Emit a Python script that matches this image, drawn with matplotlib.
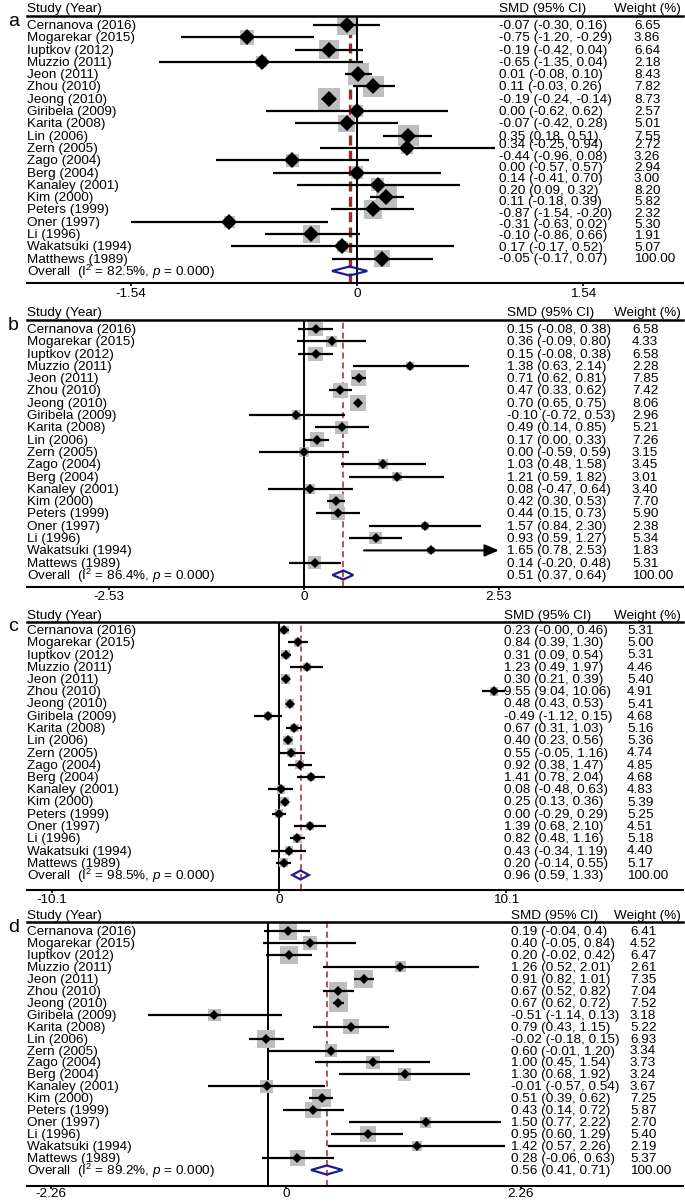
import matplotlib
matplotlib.use("Agg")
import matplotlib.pyplot as plt
import matplotlib.transforms as mtransforms
from matplotlib.patches import Polygon
import numpy as np

plt.rcParams["font.family"] = ["Liberation Sans", "DejaVu Sans"]
plt.rcParams["mathtext.fontset"] = "custom"
plt.rcParams["mathtext.rm"] = "Liberation Sans"
plt.rcParams["mathtext.it"] = "Liberation Sans:italic"

W, H = 685, 1201
FS = 9.7
L, R = 27, 683          # left / right end of the panel rules (px)

# ---- data ---------------------------------------------------------------
studies = ["Cernanova (2016)", "Mogarekar (2015)", "Iuptkov (2012)", "Muzzio (2011)",
           "Jeon (2011)", "Zhou (2010)", "Jeong (2010)", "Giribela (2009)",
           "Karita (2008)", "Lin (2006)", "Zern (2005)", "Zago (2004)",
           "Berg (2004)", "Kanaley (2001)", "Kim (2000)", "Peters (1999)",
           "Oner (1997)", "Li (1996)", "Wakatsuki (1994)", "Mattews (1989)"]
studies_a = studies[:-1] + ["Matthews (1989)"]

smd_a = [-0.07, -0.75, -0.19, -0.65, 0.01, 0.11, -0.19, 0.00, -0.07, 0.35,
         0.34, -0.44, 0.00, 0.14, 0.20, 0.11, -0.87, -0.31, -0.10, 0.17]
lo_a = [-0.30, -1.20, -0.42, -1.35, -0.08, -0.03, -0.24, -0.62, -0.42, 0.18,
        -0.25, -0.96, -0.57, -0.41, 0.09, -0.18, -1.54, -0.63, -0.86, -0.17]
hi_a = [0.16, -0.29, 0.04, 0.04, 0.10, 0.26, -0.14, 0.62, 0.28, 0.51,
        0.94, 0.08, 0.57, 0.70, 0.32, 0.39, -0.20, 0.02, 0.66, 0.52]
w_a = [6.65, 3.86, 6.64, 2.18, 8.43, 7.82, 8.73, 2.57, 5.01, 7.55,
       2.72, 3.26, 2.94, 3.00, 8.20, 5.82, 2.32, 5.30, 1.91, 5.07]
overall_a = (-0.05, -0.17, 0.07)
i2_a = 82.5

smd_b = [0.15, 0.36, 0.15, 1.38, 0.71, 0.47, 0.70, -0.10, 0.49, 0.17,
         0.00, 1.03, 1.21, 0.08, 0.42, 0.44, 1.57, 0.93, 1.65, 0.14]
lo_b = [-0.08, -0.09, -0.08, 0.63, 0.62, 0.33, 0.65, -0.72, 0.14, 0.00,
        -0.59, 0.48, 0.59, -0.47, 0.30, 0.15, 0.84, 0.59, 0.78, -0.20]
hi_b = [0.38, 0.80, 0.38, 2.14, 0.81, 0.62, 0.75, 0.53, 0.85, 0.33,
        0.59, 1.58, 1.82, 0.64, 0.53, 0.73, 2.30, 1.27, 2.53, 0.48]
w_b = [6.58, 4.33, 6.58, 2.28, 7.85, 7.42, 8.06, 2.96, 5.21, 7.26,
       3.15, 3.45, 3.01, 3.40, 7.70, 5.90, 2.38, 5.34, 1.83, 5.31]
overall_b = (0.51, 0.37, 0.64)
i2_b = 86.4

smd_c = [0.23, 0.84, 0.31, 1.23, 0.30, 9.55, 0.48, -0.49, 0.67, 0.40,
         0.55, 0.92, 1.41, 0.08, 0.25, 0.00, 1.39, 0.82, 0.43, 0.20]
lo_c = [-0.00, 0.39, 0.09, 0.49, 0.21, 9.04, 0.43, -1.12, 0.31, 0.23,
        -0.05, 0.38, 0.78, -0.48, 0.13, -0.29, 0.68, 0.48, -0.34, -0.14]
hi_c = [0.46, 1.30, 0.54, 1.97, 0.39, 10.06, 0.53, 0.15, 1.03, 0.56,
        1.16, 1.47, 2.04, 0.63, 0.36, 0.29, 2.10, 1.16, 1.19, 0.55]
w_c = [5.31, 5.00, 5.31, 4.46, 5.40, 4.91, 5.41, 4.68, 5.16, 5.36,
       4.74, 4.85, 4.68, 4.83, 5.39, 5.25, 4.51, 5.18, 4.40, 5.17]
overall_c = (0.96, 0.59, 1.33)
i2_c = 98.5

smd_d = [0.19, 0.40, 0.20, 1.26, 0.91, 0.67, 0.67, -0.51, 0.79, -0.02,
         0.60, 1.00, 1.30, -0.01, 0.51, 0.43, 1.50, 0.95, 1.42, 0.28]
lo_d = [-0.04, -0.05, -0.02, 0.52, 0.82, 0.52, 0.62, -1.14, 0.43, -0.18,
        -0.01, 0.45, 0.68, -0.57, 0.39, 0.14, 0.77, 0.60, 0.57, -0.06]
hi_d = [0.40, 0.84, 0.42, 2.01, 1.01, 0.82, 0.72, 0.13, 1.15, 0.15,
        1.20, 1.54, 1.92, 0.54, 0.62, 0.72, 2.22, 1.29, 2.26, 0.63]
w_d = [6.41, 4.52, 6.47, 2.61, 7.35, 7.04, 7.52, 3.18, 5.22, 6.93,
       3.34, 3.73, 3.24, 3.67, 7.25, 5.87, 2.70, 5.40, 2.19, 5.37]
overall_d = (0.56, 0.41, 0.71)
i2_d = 89.2
ci_text_fix_d = {0: "0.19 (-0.04, 0.4)"}

ticks_a = [-1.54, 0, 1.54]
ticks_b = [-2.53, 0, 2.53]
ticks_c = [-10.1, 0, 10.1]
ticks_d = [-2.26, 0, 2.26]

# ---- layout (pixels) ----------------------------------------------------
panels = [
    dict(letter="a", names=studies_a, smd=smd_a, lo=lo_a, hi=hi_a, w=w_a,
         ov=overall_a, i2=i2_a, ticks=ticks_a, fix={},
         y=(16, 25, 271, 283), x0=357, scale=146.8, box=7.5, ms=8.5,
         dash_lw=2.4, dash=(3.0, 1.6), smd_x=499, w_x=634,
         tick_shift=0.0, tick_fac=1.0, arrow=None, drift=True, pad=1.5),
    dict(letter="b", names=studies, smd=smd_b, lo=lo_b, hi=hi_b, w=w_b,
         ov=overall_b, i2=i2_b, ticks=ticks_b, fix={},
         y=(320, 329, 575, 587), x0=304, scale=77.0, box=5.5, ms=5.5,
         dash_lw=1.1, dash=(4.0, 2.5), smd_x=507, w_x=632,
         tick_shift=0.0, tick_fac=1.0, arrow=2.53, drift=False, pad=1.0),
    dict(letter="c", names=studies, smd=smd_c, lo=lo_c, hi=hi_c, w=w_c,
         ov=overall_c, i2=i2_c, ticks=ticks_c, fix={},
         y=(622, 630, 875, 890), x0=279, scale=22.5, box=3.9, ms=5.5,
         dash_lw=1.1, dash=(4.0, 2.5), smd_x=504, w_x=627,
         tick_shift=0.0, tick_fac=1.0, arrow=None, drift=False, pad=0.5),
    dict(letter="d", names=studies, smd=smd_d, lo=lo_d, hi=hi_d, w=w_d,
         ov=overall_d, i2=i2_d, ticks=ticks_d, fix=ci_text_fix_d,
         y=(922, 931, 1170, 1186), x0=268, scale=105.0, box=6.8, ms=5.5,
         dash_lw=1.1, dash=(4.0, 2.5), smd_x=511, w_x=630,
         tick_shift=0.17, tick_fac=0.99, arrow=None, drift=False, pad=-0.8),
]

fig = plt.figure(figsize=(W / 100, H / 100), dpi=100)
# nudge all text down by one pixel so caps sit on the row centre
down = mtransforms.ScaledTranslation(0, -1.0 / 100, fig.dpi_scale_trans)


def ci_text(e, lo, hi):
    return "%.2f (%.2f, %.2f)" % (e, lo, hi)


for p in panels:
    top, first, last, bottom = p["y"]
    sp = (last - first) / 20.0
    ax = fig.add_axes([L / W, 1 - bottom / H, (R - L) / W, (bottom - top) / H])
    ax.set_xlim((L - p["x0"]) / p["scale"], (R - p["x0"]) / p["scale"])
    ax.set_ylim(20 + (bottom - last) / sp, -(first - top) / sp)
    tr = mtransforms.blended_transform_factory(fig.transFigure, ax.transData) + down

    smd = np.array(p["smd"])
    lo = np.array(p["lo"])
    hi = np.array(p["hi"])
    wt = np.array(p["w"])
    rows = np.arange(len(smd))

    # reference lines
    ax.axvline(0, color="k", lw=1.4, zorder=1)
    ax.axvline(p["ov"][0], color="#A3262E", lw=p["dash_lw"],
               ls=(0, p["dash"]), zorder=1.5)

    # weight boxes, CIs, point estimates
    ax.scatter(smd, rows, s=(0.72 * p["box"]) ** 2 * wt, marker="s",
               color="#BEBEBE", linewidths=0, zorder=2)
    for i in rows:
        if p["arrow"] is not None and hi[i] >= p["arrow"]:
            ax.annotate("", xy=(hi[i], i), xytext=(lo[i], i),
                        arrowprops=dict(arrowstyle="-|>,head_length=0.7,head_width=0.3",
                                        color="k", lw=1.5, mutation_scale=12,
                                        shrinkA=0, shrinkB=0), zorder=3)
        else:
            ax.plot([lo[i], hi[i]], [i, i], color="k", lw=1.6,
                    solid_capstyle="butt", zorder=3)
    ax.plot(smd, rows, "D", color="k", ms=p["ms"], mew=0, zorder=4)

    # overall diamond
    e, olo, ohi = p["ov"]
    n = len(smd)
    hh = 4.5 / sp
    ax.add_patch(Polygon([[olo, n], [e, n - hh], [ohi, n], [e, n + hh]],
                         closed=True, fill=False, edgecolor="#1C1C8C",
                         lw=1.6, zorder=5))

    # axes styling
    for s in ("left", "right"):
        ax.spines[s].set_visible(False)
    ax.spines["top"].set_linewidth(1.8)
    ax.spines["bottom"].set_linewidth(1.5)
    ax.set_yticks([])
    ax.set_xticks([p["tick_shift"] + p["tick_fac"] * t for t in p["ticks"]])
    ax.set_xticklabels(["%g" % t for t in p["ticks"]], fontsize=FS)
    ax.tick_params(axis="x", direction="out", length=2.2, width=1.2, pad=p["pad"])

    # text columns
    head_y = -(first - top) / sp - 7.5 / sp
    ax.text(L / W, head_y, "Study (Year)", transform=tr, fontsize=FS,
            va="center", ha="left")
    ax.text(p["smd_x"] / W, head_y, "SMD (95% CI)", transform=tr,
            fontsize=FS, va="center", ha="left")
    ax.text(614 / W, head_y, "Weight (%)", transform=tr, fontsize=FS,
            va="center", ha="left")
    ax.text(8 / W, -0.35, p["letter"], transform=tr, fontsize=14,
            va="center", ha="left")

    labels = list(p["names"]) + ["Overall  (I$^{2}$ = %.1f%%, $p$ = 0.000)" % p["i2"]]
    smd_txt = [p["fix"].get(i, ci_text(smd[i], lo[i], hi[i])) for i in rows]
    smd_txt.append(ci_text(e, olo, ohi))
    w_txt = ["%.2f" % v for v in wt] + ["100.00"]

    text_rows = np.arange(n + 1, dtype=float)
    if p["drift"]:
        text_rows = np.where(text_rows < 10, text_rows,
                             9.7 + (text_rows - 10) * 0.925)

    for i in range(n + 1):
        ax.text(L / W, i, labels[i], transform=tr, fontsize=FS,
                va="center", ha="left")
        ax.text(p["smd_x"] / W, text_rows[i], smd_txt[i], transform=tr,
                fontsize=FS, va="center", ha="left")
        ax.text(p["w_x"] / W, text_rows[i], w_txt[i], transform=tr,
                fontsize=FS, va="center", ha="left")

fig.savefig("out.png", dpi=100)
